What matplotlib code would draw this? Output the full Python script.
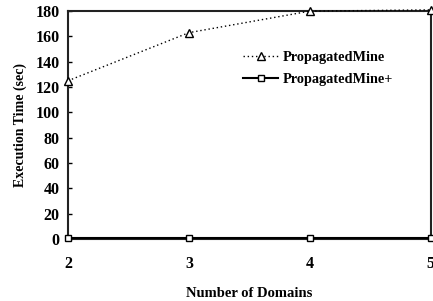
import matplotlib.pyplot as plt

# data
domains = [2, 3, 4, 5]
propagated_mine = [125, 163, 180, 181]
propagated_mine_plus = [0.5, 0.5, 0.5, 0.5]
y_ticks = [0, 20, 40, 60, 80, 100, 120, 140, 160, 180]

plt.rcParams['font.family'] = ['Liberation Serif', 'DejaVu Serif']
plt.rcParams['font.weight'] = 'bold'

fig = plt.figure(figsize=(4.33, 3.01), dpi=100)
ax = fig.add_axes([0.157, 0.206, 0.838, 0.757])

ax.plot(domains, propagated_mine, color='black', linestyle=(0, (1, 2)), linewidth=1,
        marker='^', markersize=6, markerfacecolor='white', markeredgecolor='black',
        label='PropagatedMine', clip_on=False, zorder=3)
ax.plot(domains, propagated_mine_plus, color='black', linestyle='-', linewidth=1.5,
        marker='s', markersize=5, markerfacecolor='white', markeredgecolor='black',
        label='PropagatedMine+', clip_on=False, zorder=3)

ax.set_xlim(2, 5)
ax.set_ylim(0, 180)
ax.set_xticks(domains)
ax.set_yticks(y_ticks)
ax.tick_params(axis='y', direction='in', length=3, width=1, labelsize=11.5, pad=6)
ax.tick_params(axis='x', length=0, labelsize=11.5, pad=12)
for lbl in ax.get_xticklabels() + ax.get_yticklabels():
    lbl.set_fontweight('bold')

for side in ['left', 'top', 'right', 'bottom']:
    ax.spines[side].set_linewidth(1.5)
    ax.spines[side].set_color('#222222')

ax.set_xlabel('Number of Domains', fontsize=10.5, fontweight='bold', labelpad=11)
ax.set_ylabel('Execution Time (sec)', fontsize=10, fontweight='bold', labelpad=6)

leg = ax.legend(loc='upper left', bbox_to_anchor=(0.448, 0.88), frameon=False,
                handlelength=2.4, handletextpad=0.35, labelspacing=0.6,
                prop={'weight': 'bold', 'size': 10.3})

fig.savefig('out.png', dpi=100)
